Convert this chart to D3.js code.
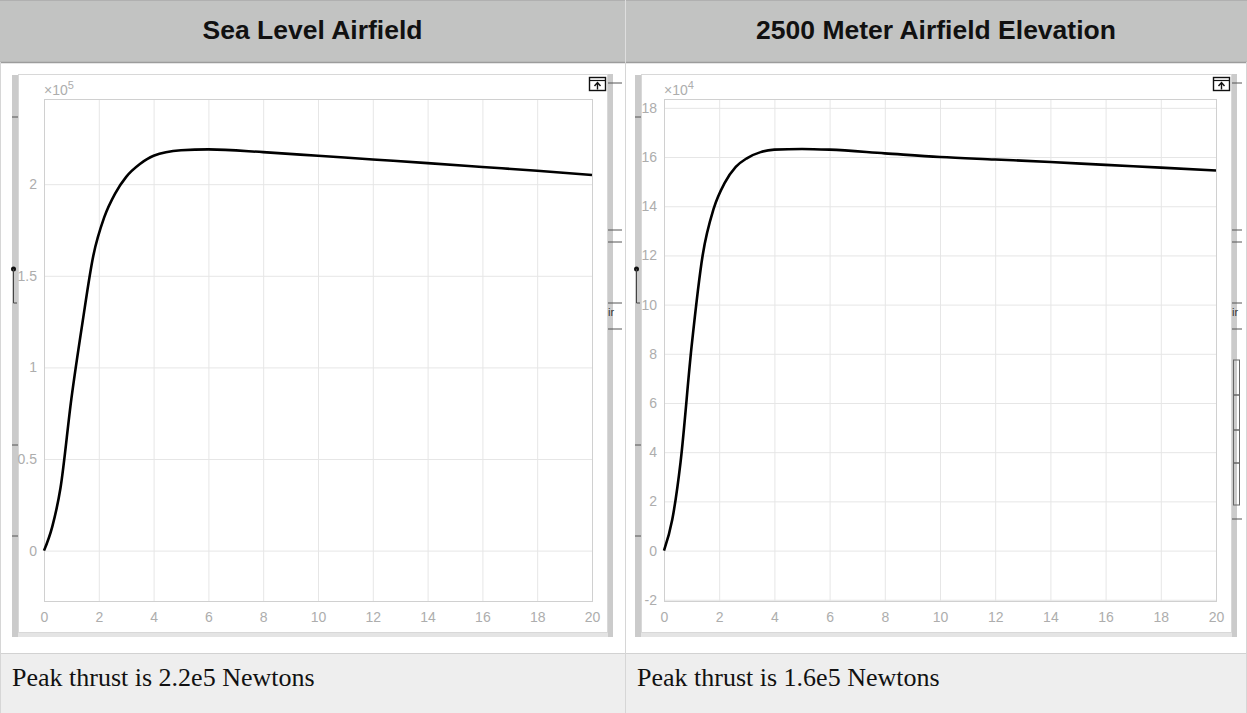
<!DOCTYPE html>
<meta charset="utf-8">
<style>
  body { margin: 0; background: #fff; }
  svg { display: block; }
  .tick text { font: 14px "Liberation Sans", Arial, sans-serif; fill: #adadad; }
</style>
<svg width="1247" height="713"></svg>
<script src="https://d3js.org/d3.v7.min.js"></script>
<script>

// column titles and captions
var headers = ["Sea Level Airfield", "2500 Meter Airfield Elevation"];
var captions = ["Peak thrust is 2.2e5 Newtons", "Peak thrust is 1.6e5 Newtons"];

// shared x axis (time)
var timeTicks = [0, 2, 4, 6, 8, 10, 12, 14, 16, 18, 20];

// sea level thrust, in units of 1e5 N
var seaTime   = [0, 0.3, 0.6, 1.0, 1.4, 1.8, 2.2, 2.6, 3.0, 3.5, 4.0, 5.0, 6.0, 8.0, 10, 12, 14, 16, 18, 20];
var seaThrust = [0, 0.13, 0.34, 0.83, 1.24, 1.61, 1.82, 1.95, 2.04, 2.11, 2.155, 2.185, 2.19, 2.175, 2.155, 2.135, 2.115, 2.094, 2.073, 2.05];
var seaTicks  = [0, 0.5, 1, 1.5, 2];

// 2500 m thrust, in units of 1e4 N
var highTime   = [0, 0.3, 0.6, 1.0, 1.4, 1.8, 2.2, 2.6, 3.0, 3.5, 4.0, 5.0, 6.0, 8.0, 10, 12, 14, 16, 18, 20];
var highThrust = [0, 1.26, 3.6, 8.3, 12.0, 13.9, 14.95, 15.6, 15.95, 16.2, 16.3, 16.33, 16.3, 16.15, 16.0, 15.9, 15.8, 15.68, 15.57, 15.45];
var highTicks  = [-2, 0, 2, 4, 6, 8, 10, 12, 14, 16, 18];

var svg = d3.select("svg"),
    W = +svg.attr("width"),
    H = +svg.attr("height"),
    colX = [0, 625, W],
    headH = 62,
    capTop = 653;

// ---- table ----
svg.append("rect").attr("x", 0).attr("y", 0).attr("width", W).attr("height", headH).attr("fill", "#c2c3c2");
svg.append("line").attr("x1", 0).attr("x2", W).attr("y1", 0.5).attr("y2", 0.5).attr("stroke", "#b0b0b0");
svg.append("line").attr("x1", 0).attr("x2", W).attr("y1", headH + 0.5).attr("y2", headH + 0.5).attr("stroke", "#9c9c9c").attr("stroke-width", 1.5);
svg.append("rect").attr("x", 0).attr("y", capTop).attr("width", W).attr("height", H - capTop).attr("fill", "#eeeeee");
svg.append("line").attr("x1", 0).attr("x2", W).attr("y1", capTop + 0.5).attr("y2", capTop + 0.5).attr("stroke", "#d2d2d2");
svg.append("line").attr("x1", colX[1] + 0.5).attr("x2", colX[1] + 0.5).attr("y1", 0).attr("y2", headH).attr("stroke", "#dedede");
svg.append("line").attr("x1", colX[1] + 0.5).attr("x2", colX[1] + 0.5).attr("y1", headH).attr("y2", H).attr("stroke", "#d6d6d6");
svg.append("line").attr("x1", 0.5).attr("x2", 0.5).attr("y1", headH).attr("y2", H).attr("stroke", "#d6d6d6");
svg.append("line").attr("x1", W - 0.5).attr("x2", W - 0.5).attr("y1", headH).attr("y2", H).attr("stroke", "#d6d6d6");

headers.forEach(function(h, i) {
  svg.append("text")
      .attr("x", (colX[i] + colX[i + 1]) / 2)
      .attr("y", 39)
      .attr("text-anchor", "middle")
      .style("font", "bold 26.5px 'Liberation Sans', Arial, sans-serif")
      .attr("fill", "#111")
      .text(h);
});

captions.forEach(function(c, i) {
  svg.append("text")
      .attr("x", colX[i] + 12)
      .attr("y", 686)
      .style("font", "26px 'Liberation Serif', 'Times New Roman', serif")
      .attr("fill", "#111")
      .text(c);
});

// ---- panels ----
var panels = [
  {strip: 12, left: 44, right: 592, time: seaTime, thrust: seaThrust, ticks: seaTicks,
   yDomain: [-0.275, 2.465], exp: "5", fmt: function(d) { return d; }},
  {strip: 635, left: 664, right: 1216, time: highTime, thrust: highThrust, ticks: highTicks,
   yDomain: [-2.05, 18.36], exp: "4", fmt: function(d) { return d < 0 ? "-" + Math.abs(d) : d; }}
];
var plotTop = 99, plotBottom = 601;

panels.forEach(function(p, i) {
  var g = svg.append("g");

  // figure window frame (clipped screenshot)
  g.append("rect").attr("x", p.strip).attr("y", 75).attr("width", 6).attr("height", 562).attr("fill", "#cbcbcb");
  g.append("rect").attr("x", p.right + 16).attr("y", 74).attr("width", 5).attr("height", 563).attr("fill", "#cbcbcb");
  g.append("rect").attr("x", p.strip + 6).attr("y", 632).attr("width", p.right + 10 - p.strip).attr("height", 5).attr("fill", "#e4e4e4");
  g.append("rect").attr("x", p.strip + 6.5).attr("y", 74.5).attr("width", p.right + 9 - p.strip).attr("height", 558)
      .attr("fill", "#fff").attr("stroke", "#d8d8d8");

  // little controls peeking out of the strips
  [117, 445, 536].forEach(function(yy) {
    g.append("line").attr("x1", p.strip).attr("x2", p.strip + 6).attr("y1", yy).attr("y2", yy).attr("stroke", "#555");
  });
  g.append("circle").attr("cx", p.strip + 1.5).attr("cy", 269).attr("r", 2.5).attr("fill", "#111");
  g.append("path").attr("d", "M" + (p.strip + 1.5) + ",269V303H" + (p.strip + 5)).attr("fill", "none").attr("stroke", "#444");
  var rs = p.right + 16;
  [83, 230, 242, 303, 329].forEach(function(yy) {
    g.append("line").attr("x1", rs).attr("x2", rs + (i === 0 ? 14 : 10)).attr("y1", yy).attr("y2", yy).attr("stroke", "#555");
  });
  g.append("text").attr("x", rs).attr("y", 316).style("font", "11px 'Liberation Sans', sans-serif").attr("fill", "#333").text("ir");
  if (i === 1) {
    [[360, 395], [395, 430], [430, 463], [463, 505]].forEach(function(b) {
      g.append("rect").attr("x", rs + 1.5).attr("y", b[0]).attr("width", 6).attr("height", b[1] - b[0])
          .attr("fill", "none").attr("stroke", "#666");
    });
    g.append("line").attr("x1", rs).attr("x2", rs + 10).attr("y1", 519).attr("y2", 519).attr("stroke", "#555");
  }

  var x = d3.scaleLinear().domain([0, 20]).range([p.left, p.right]);
  var y = d3.scaleLinear().domain(p.yDomain).range([plotBottom, plotTop]);

  // grid
  g.append("g")
      .attr("transform", "translate(0," + plotBottom + ")")
      .call(d3.axisBottom(x).tickValues(timeTicks).tickSize(-(plotBottom - plotTop)).tickFormat(""))
      .call(function(a) { a.select(".domain").remove(); a.selectAll("line").attr("stroke", "#e6e6e6"); });
  g.append("g")
      .attr("transform", "translate(" + p.left + ",0)")
      .call(d3.axisLeft(y).tickValues(p.ticks).tickSize(-(p.right - p.left)).tickFormat(""))
      .call(function(a) { a.select(".domain").remove(); a.selectAll("line").attr("stroke", "#e6e6e6"); });

  // axes box
  g.append("rect").attr("x", p.left + 0.5).attr("y", plotTop + 0.5).attr("width", p.right - p.left).attr("height", plotBottom - plotTop)
      .attr("fill", "none").attr("stroke", "#d0d0d0");

  // tick labels
  g.append("g")
      .attr("transform", "translate(0," + plotBottom + ")")
      .call(d3.axisBottom(x).tickValues(timeTicks).tickSize(0).tickPadding(11))
      .call(function(a) { a.select(".domain").remove(); });
  g.append("g")
      .attr("transform", "translate(" + p.left + ",0)")
      .call(d3.axisLeft(y).tickValues(p.ticks).tickSize(0).tickPadding(7).tickFormat(p.fmt))
      .call(function(a) { a.select(".domain").remove(); });

  // exponent
  var ex = g.append("text").attr("x", p.left).attr("y", 95)
      .style("font", "14px 'Liberation Sans', Arial, sans-serif").attr("fill", "#adadad");
  ex.append("tspan").text("\u00d710");
  ex.append("tspan").attr("dy", -6).style("font-size", "11px").text(p.exp);

  // thrust curve
  var pts = p.time.map(function(t, k) { return [t, p.thrust[k]]; });
  g.append("path")
      .datum(pts)
      .attr("fill", "none")
      .attr("stroke", "#000")
      .attr("stroke-width", 2.6)
      .attr("stroke-linejoin", "round")
      .attr("d", d3.line().curve(d3.curveMonotoneX)
          .x(function(d) { return x(d[0]); }).y(function(d) { return y(d[1]); }));

  // undock icon
  var ix = p.right - 3, iy = 77;
  g.append("rect").attr("x", ix + 0.5).attr("y", iy + 0.5).attr("width", 16).attr("height", 13)
      .attr("fill", "#fff").attr("stroke", "#111").attr("stroke-width", 1.4);
  g.append("line").attr("x1", ix + 1).attr("x2", ix + 16).attr("y1", iy + 3.5).attr("y2", iy + 3.5).attr("stroke", "#111").attr("stroke-width", 1.2);
  g.append("path").attr("d", "M" + (ix + 8.5) + "," + (iy + 12.5) + "V" + (iy + 6) + "M" + (ix + 5.5) + "," + (iy + 9) + "L" + (ix + 8.5) + "," + (iy + 5.5) + "L" + (ix + 11.5) + "," + (iy + 9))
      .attr("fill", "none").attr("stroke", "#111").attr("stroke-width", 1.4);
});

</script>
